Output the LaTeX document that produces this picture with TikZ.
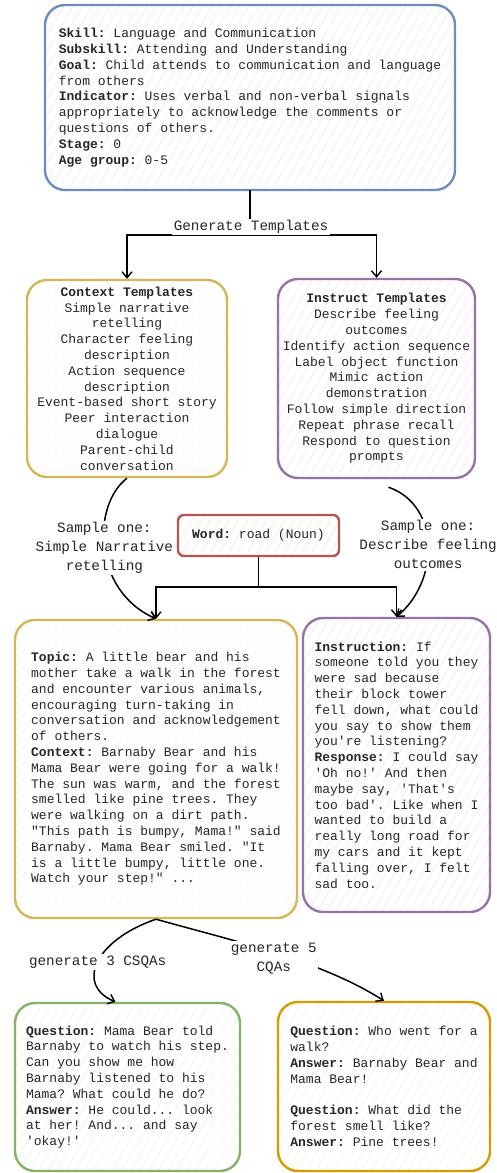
\documentclass[tikz,border=0pt]{standalone}
\usepackage{fontspec}
\setmonofont{Liberation Mono}
\usetikzlibrary{arrows.meta,patterns.meta}

\definecolor{skillC}{HTML}{6C8EBF}
\definecolor{ctxC}{HTML}{D6B656}
\definecolor{insC}{HTML}{9673A6}
\definecolor{wordC}{HTML}{B85450}
\definecolor{csqaC}{HTML}{82B366}
\definecolor{cqaC}{HTML}{D79B00}

\tikzset{
  card/.style={draw=#1, line width=2.4pt, rounded corners=20pt, inner sep=0pt,
               text=black!85,
               font=\ttfamily\fontsize{13}{15.8}\selectfont,
               pattern={Lines[angle=60,distance=8pt,line width=.6pt]},
               pattern color=#1!14},
  flow/.style={line width=1.5pt, -{Straight Barb[length=6pt,width=10pt,line width=1.4pt]}},
  edgelabel/.style={fill=white, inner sep=1.5pt, align=center, text=black!85,
                    font=\ttfamily\fontsize{14.3}{19}\selectfont}
}

\begin{document}
\begin{tikzpicture}[x=1pt, y=-1pt]
\useasboundingbox (0,0) rectangle (497,1173);
%
\node (skill) [card=skillC, align=left, minimum width=410pt, minimum height=185pt] at (250,97.5)
  {\textbf{Skill:} Language and Communication\\
   \textbf{Subskill:} Attending and Understanding\\
   \textbf{Goal:} Child attends to communication and language\\
   from others\\
   \textbf{Indicator:} Uses verbal and non-verbal signals\\
   appropriately to acknowledge the comments or\\
   questions of others.\\
   \textbf{Stage:} 0\\
   \textbf{Age group:} 0-5};
\node (ctx) [card=ctxC, align=center, minimum width=200pt, minimum height=197pt] at (127,378.5)
  {\textbf{Context Templates}\\Simple narrative\\retelling\\Character feeling\\description\\
   Action sequence\\description\\Event-based short story\\Peer interaction\\dialogue\\
   Parent-child\\conversation};
\node (ins) [card=insC, align=center, minimum width=197pt, minimum height=199pt] at (376.5,378.5)
  {\textbf{Instruct Templates}\\Describe feeling\\outcomes\\Identify action sequence\\
   Label object function\\Mimic action\\demonstration\\Follow simple direction\\
   Repeat phrase recall\\Respond to question\\prompts};
\node (word) [card=wordC, rounded corners=6pt, minimum width=161pt, minimum height=41pt] at (258.5,535.5)
  {\textbf{Word:} road (Noun)};
%
\node (topic) [card=ctxC, align=left, minimum width=282pt, minimum height=298pt] at (156,769)
  {\textbf{Topic:} A little bear and his\\
   mother take a walk in the forest\\
   and encounter various animals,\\
   encouraging turn-taking in\\
   conversation and acknowledgement\\
   of others.\\
   \textbf{Context:} Barnaby Bear and his\\
   Mama Bear were going for a walk!\\
   The sun was warm, and the forest\\
   smelled like pine trees. They\\
   were walking on a dirt path.\\
   "This path is bumpy, Mama!" said\\
   Barnaby. Mama Bear smiled. "It\\
   is a little bumpy, little one.\\
   Watch your step!" ...};
\node (instr) [card=insC, align=left, minimum width=187pt, minimum height=294pt] at (396.5,765)
  {\textbf{Instruction:} If\\
   someone told you they\\
   were sad because\\
   their block tower\\
   fell down, what could\\
   you say to show them\\
   you're listening?\\
   \textbf{Response:} I could say\\
   'Oh no!' And then\\
   maybe say, 'That's\\
   too bad'. Like when I\\
   wanted to build a\\
   really long road for\\
   my cars and it kept\\
   falling over, I felt\\
   sad too.};
%
\node (csqa) [card=csqaC, align=left, minimum width=225pt, minimum height=168pt] at (127.5,1087)
  {\textbf{Question:} Mama Bear told\\
   Barnaby to watch his step.\\
   Can you show me how\\
   Barnaby listened to his\\
   Mama? What could he do?\\
   \textbf{Answer:} He could... look\\
   at her! And... and say\\
   'okay!'};
\node (cqa) [card=cqaC, align=left, minimum width=212pt, minimum height=169pt] at (384,1086.5)
  {\textbf{Question:} Who went for a\\
   walk?\\
   \textbf{Answer:} Barnaby Bear and\\
   Mama Bear!\\[15.8pt]
   \textbf{Question:} What did the\\
   forest smell like?\\
   \textbf{Answer:} Pine trees!};
%
\draw[line width=1.5pt] (skill.south) -- (250,235) coordinate (fork1);
\draw[flow] (fork1) -| (ctx.north);
\draw[flow] (fork1) -| (ins.north);
\node (gen) [edgelabel] at (251,227) {Generate Templates};
%
\draw[line width=1.5pt] (word.south) -- (258.5,587) coordinate (fork2);
\draw[flow] (fork2) -| (topic.north);
\draw[flow] (fork2) -| (instr.north);
%
\draw[flow] (ctx.south) .. controls (92,505) and (92,590) .. (topic.north)
  node[pos=.5, edgelabel] (pick1) {Sample one:\\Simple Narrative\\retelling};
\draw[flow] ([xshift=12pt,yshift=-8pt]ins.south) .. controls (440,505) and (440,580) .. (instr.north)
  node[pos=.5, edgelabel] (pick2) {Sample one:\\Describe feeling\\outcomes};
%
\draw[flow] (topic.south) .. controls (95,940) and (75,985) .. ([xshift=-12pt]csqa.north)
  node[pos=.5, edgelabel] (gen3) {generate 3 CSQAs};
\draw[flow] (topic.south) .. controls (230,940) and (320,960) .. (cqa.north)
  node[pos=.5, edgelabel, yshift=-6pt] (gen5) {generate 5\\CQAs};
\end{tikzpicture}
\end{document}
